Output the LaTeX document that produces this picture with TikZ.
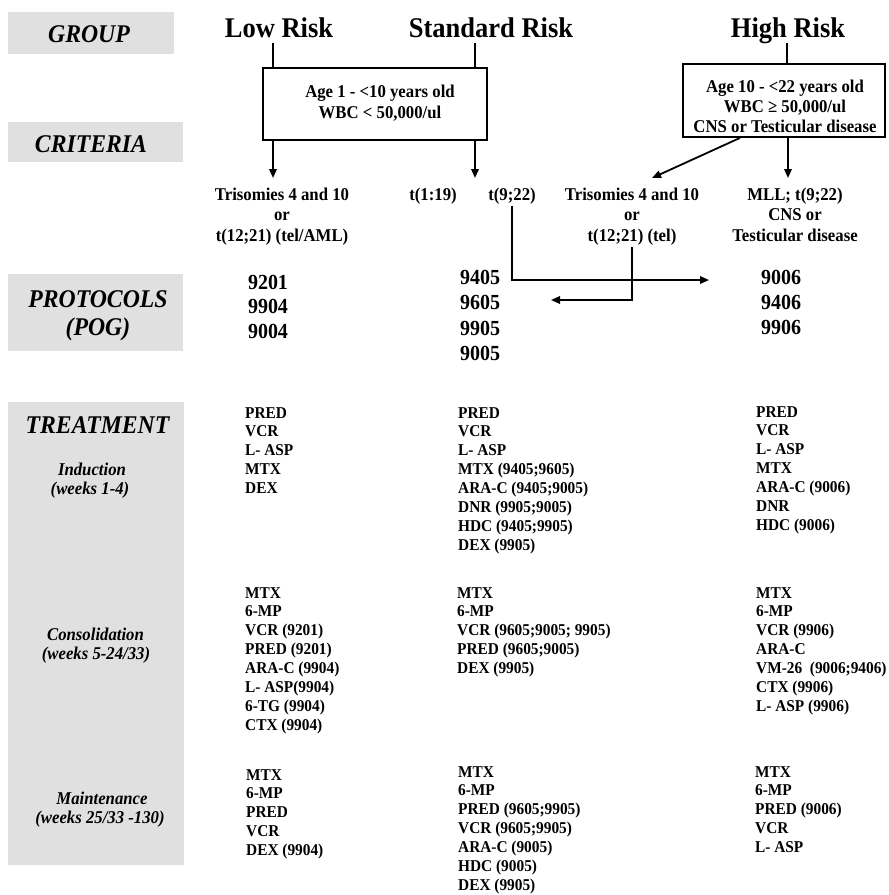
\documentclass[tikz,border=0pt]{standalone}
\usepackage{fontspec}
\setmainfont{Liberation Serif}[FakeStretch=0.93]
\usetikzlibrary{arrows.meta}
\definecolor{lblgray}{HTML}{E0E0E0}
\newcommand{\colL}[1]{\begin{tabular}[t]{@{}l@{}}#1\end{tabular}}
\newcommand{\colC}[1]{\begin{tabular}[t]{@{}c@{}}#1\end{tabular}}
\tikzset{
  graybox/.style={fill=lblgray, draw=none},
  lbl/.style={inner sep=0pt, anchor=base, font=\fontsize{25.5}{25.5}\selectfont\bfseries\itshape},
  sublbl/.style={inner sep=0pt, anchor=base, font=\fontsize{18}{18}\selectfont\bfseries\itshape},
  head/.style={inner sep=0pt, anchor=base, font=\fontsize{28.5}{28.5}\selectfont\bfseries},
  boxtxt/.style={inner sep=0pt, anchor=base, font=\fontsize{18}{21.5}\selectfont\bfseries},
  hboxtxt/.style={inner sep=0pt, anchor=base, font=\fontsize{18}{20}\selectfont\bfseries},
  crit/.style={inner sep=0pt, anchor=base, font=\fontsize{18}{20.5}\selectfont\bfseries},
  protA/.style={inner sep=0pt, anchor=base, font=\fontsize{21.5}{24.5}\selectfont\bfseries},
  protB/.style={inner sep=0pt, anchor=base, font=\fontsize{21.5}{25.5}\selectfont\bfseries},
  protC/.style={inner sep=0pt, anchor=base, font=\fontsize{21.5}{25}\selectfont\bfseries},
  drug/.style={inner sep=0pt, anchor=base west, font=\fontsize{16.5}{18.9}\selectfont\bfseries},
  critbox/.style={draw, line width=1.8pt, fill=white, inner sep=0pt},
  conn/.style={line width=1.8pt},
  arr/.style={conn, -{Triangle[length=9pt,width=7.5pt]}},
}
\begin{document}
\begin{tikzpicture}[x=1pt,y=-1pt]
\useasboundingbox[fill=white] (0,0) rectangle (889,895);

% gray label boxes
\fill[graybox] (8,12) rectangle (174,54);
\fill[graybox] (8,122) rectangle (183,162);
\fill[graybox] (8,274) rectangle (183,351);
\fill[graybox] (8,402) rectangle (184,865);

% left labels
\node[lbl] (lgroup) at (89,42) {GROUP};
\node[lbl] (lcrit) at (91,152) {CRITERIA};
\node[lbl] (lprot) at (98,307) {PROTOCOLS};
\node[lbl] (lpog) at (98,335) {(POG)};
\node[lbl] (ltreat) at (97.5,433) {TREATMENT};
\node[sublbl] (lind) at (92,475) {Induction};
\node[sublbl] (lindw) at (90,494) {(weeks 1-4)};
\node[sublbl] (lcons) at (95.5,640) {Consolidation};
\node[sublbl] (lconsw) at (96,659) {(weeks 5-24/33)};
\node[sublbl] (lmain) at (102,804) {Maintenance};
\node[sublbl] (lmainw) at (100,823) {(weeks 25/33 -130)};

% group headings
\node[head] (lowh) at (279,37) {Low Risk};
\node[head] (stdh) at (491,37) {Standard Risk};
\node[head] (highh) at (788,37) {High Risk};

% criteria boxes
\node[critbox, minimum width=224pt, minimum height=72pt] (stdbox) at (375,104) {};
\node[critbox, minimum width=202pt, minimum height=73pt] (highbox) at (784,100.5) {};
\node[boxtxt] (stdtxt) at (380,97) {\colC{Age 1 - <10 years old\\WBC < 50,000/ul}};
\node[hboxtxt] (hightxt) at (785,92) {\colC{Age 10 - <22 years old\\WBC ≥ 50,000/ul\\CNS or Testicular disease}};

% connector anchors
\coordinate (lowtop) at (273,43);
\coordinate (stdtop) at (475,43);
\coordinate (hightop) at (787,43);
\coordinate (lowend) at (273,178);
\coordinate (stdend) at (475,178);
\coordinate (highend) at (788,178);
\coordinate (diagstart) at (740,137);
\coordinate (diagend) at (652,178);

\draw[conn] (lowtop) -- (lowtop |- stdbox.north);
\draw[conn] (stdtop) -- (stdtop |- stdbox.north);
\draw[conn] (hightop) -- (hightop |- highbox.north);
\draw[arr] (lowend |- stdbox.south) -- (lowend);
\draw[arr] (stdend |- stdbox.south) -- (stdend);
\draw[arr] (highend |- highbox.south) -- (highend);
\draw[arr] (diagstart |- highbox.south) -- (diagend);

% criteria results
\node[crit] (c1) at (282,200) {\colC{Trisomies 4 and 10\\or\\t(12;21) (tel/AML)}};
\node[crit] (c2) at (433,200) {\colC{t(1:19)}};
\node[crit] (c3) at (512,200) {\colC{t(9;22)}};
\node[crit] (c4) at (632,200) {\colC{Trisomies 4 and 10\\or\\t(12;21) (tel)}};
\node[crit] (c5) at (795,200) {\colC{MLL; t(9;22)\\CNS or\\Testicular disease}};

% protocols
\node[protA] (p1) at (268,289) {\colC{9201\\9904\\9004}};
\node[protB] (p2) at (480,284) {\colC{9405\\9605\\9905\\9005}};
\node[protC] (p3) at (781,284) {\colC{9006\\9406\\9906}};

\coordinate (tohigh) at (709,280);
\coordinate (tostd) at (551,300);
\draw[arr] (c3.south) |- (tohigh);
\draw[arr] (c4.south) |- (tostd);

% treatment: induction
\node[drug] (i1) at (245,418) {\colL{PRED\\VCR\\L- ASP\\MTX\\DEX}};
\node[drug] (i2) at (458,418) {\colL{PRED\\VCR\\L- ASP\\MTX (9405;9605)\\ARA-C (9405;9005)\\DNR (9905;9005)\\HDC (9405;9905)\\DEX (9905)}};
\node[drug] (i3) at (756,417) {\colL{PRED\\VCR\\L- ASP\\MTX\\ARA-C (9006)\\DNR\\HDC (9006)}};

% consolidation
\node[drug] (k1) at (245,598) {\colL{MTX\\6-MP\\VCR (9201)\\PRED (9201)\\ARA-C (9904)\\L- ASP(9904)\\6-TG (9904)\\CTX (9904)}};
\node[drug] (k2) at (457,598) {\colL{MTX\\6-MP\\VCR (9605;9005; 9905)\\PRED (9605;9005)\\DEX (9905)}};
\node[drug] (k3) at (756,598) {\colL{MTX\\6-MP\\VCR (9906)\\ARA-C\\VM-26 \ (9006;9406)\\CTX (9906)\\L- ASP (9906)}};

% maintenance
\node[drug] (m1) at (246,780) {\colL{MTX\\6-MP\\PRED\\VCR\\DEX (9904)}};
\node[drug] (m2) at (458,777) {\colL{MTX\\6-MP\\PRED (9605;9905)\\VCR (9605;9905)\\ARA-C (9005)\\HDC (9005)\\DEX (9905)}};
\node[drug] (m3) at (755,777) {\colL{MTX\\6-MP\\PRED (9006)\\VCR\\L- ASP}};
\end{tikzpicture}
\end{document}
